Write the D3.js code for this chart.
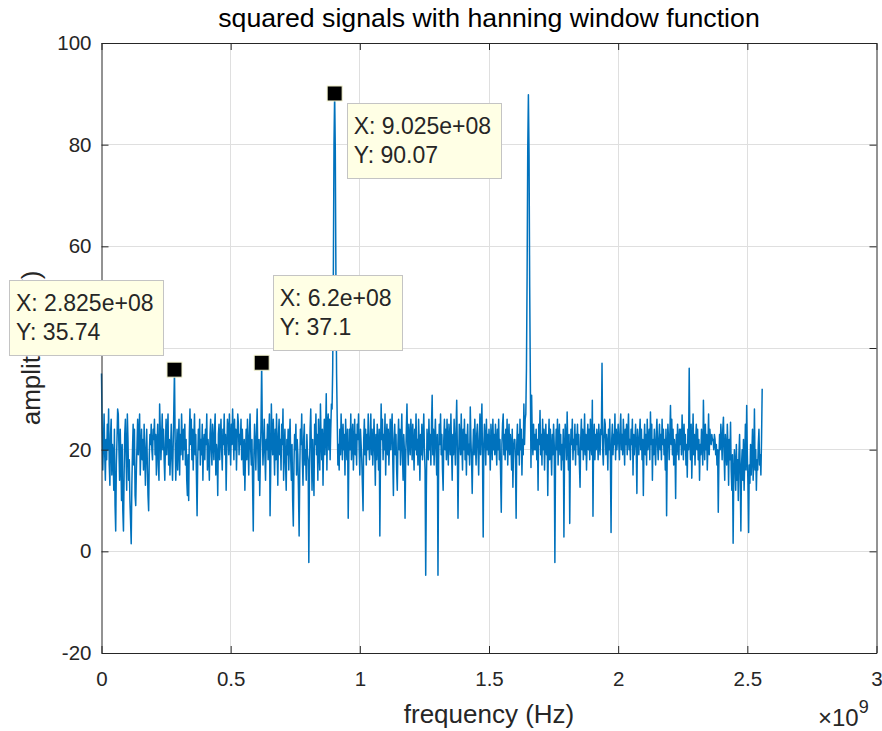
<!DOCTYPE html>
<html>
<head>
<meta charset="utf-8">
<script src="https://cdn.jsdelivr.net/npm/d3@7"></script>
<style>
    body { margin: 0; background: #fff; }
    svg text { font-family: "Liberation Sans", Arial, Helvetica, sans-serif; }
</style>
</head>
<body>
<div id="chart"></div>
<script>
// spectrum: one value per FFT bin, bins are 2.5 MHz apart, starting at 0 Hz
const binWidth = 2.5e6;
const amplitude = [
    35, 24, 16, 21, 27, 19, 14, 22, 18, 25, 20, 28, 17, 13, 23, 26, 15, 21, 19, 12, 24, 9, 4, 17, 22, 28, 27, 20, 14, 24, 18, 10,
    21, 8, 4, 15, 23, 26, 19, 12, 27, 22, 14, 18, 10, 6, 1.5, 13, 20, 25, 17, 24, 11, 9, 16, 21, 26, 19, 23, 27, 15, 20, 24, 18,
    22, 16, 25, 19, 13, 20, 24, 17, 11, 8, 19, 23, 21, 25, 20, 18, 24, 22, 26, 19, 23, 15, 21, 25, 17, 14, 29, 24, 18, 22, 27, 20,
    24, 18, 14, 21, 26, 19, 23, 27, 17, 22, 15, 20, 25, 18, 14, 21, 28, 35.74, 22, 14, 19, 24, 16, 21, 26, 15, 23, 19, 27, 22, 18, 24,
    20, 25, 17, 22, 14, 11, 19, 10, 23, 28, 21, 26, 18, 24, 16, 22, 27, 19, 23, 15, 7, 18, 24, 20, 26, 17, 22, 19, 25, 14, 21, 23,
    18, 24, 21, 27, 16, 22, 19, 14, 23, 26, 20, 17, 25, 22, 18, 24, 27, 15, 21, 19, 11, 23, 25, 18, 22, 26, 20, 16, 24, 21, 27, 19,
    23, 12, 20, 26, 24, 19, 27, 22, 17, 25, 21, 28, 23, 18, 26, 20, 24, 16, 22, 27, 25, 19, 23, 21, 26, 18, 24, 20, 15, 22, 12, 19,
    24, 18, 26, 21, 15, 23, 27, 20, 17, 22, 13, 4, 19, 25, 21, 16, 23, 28, 20, 14, 22, 11, 18, 25, 37.1, 24, 17, 21, 26, 19, 14, 22,
    20, 25, 18, 23, 27, 7, 16, 29, 22, 19, 26, 21, 15, 24, 18, 27, 20, 13, 23, 26, 19, 22, 16, 25, 21, 28, 14, 20, 24, 17, 12, 22,
    19, 24, 16, 22, 26, 18, 14, 21, 10, 5, 17, 23, 20, 25, 15, 22, 19, 12, 3, 16, 24, 21, 27, 18, 13, 22, 25, 17, 20, 14, 23, 19,
    18, -2.2, 15, 24, 28, 20, 12, 22, 17, 11, 25, 21, 27, 19, 23, 14, 26, 20, 16, 29, 22, 18, 24, 13, 21, 26, 19, 23, 31, 16, 25, 27,
    20, 26, 18, 24, 29, 28, 36, 55, 80, 90.07, 79, 53, 35, 26, 17, 21, 16, 24, 19, 27, 22, 18, 25, 20, 23, 15, 26, 21, 18, 24, 6.5, 19,
    24, 20, 27, 18, 22, 25, 16, 21, 26, 19, 23, 17, 25, 22, 27, 20, 15, 24, 21, 18, 13, 8, 22, 26, 19, 24, 17, 23, 20, 27, 21, 18,
    22, 27, 19, 24, 17, 21, 26, 20, 13, 23, 18, 25, 21, 16, 24, 3, 19, 29, 22, 26, 18, 23, 20, 27, 15, 22, 25, 19, 24, 17, 21, 26,
    20, 24, 27, 18, 11, 22, 25, 19, 23, 16, 12, 21, 26, 20, 24, 17, 22, 27, 19, 14, 23, 20, 6.5, 18, 24, 29, 21, 17, 25, 22, 19, 26,
    23, 18, 25, 21, 16, 24, 20, 27, 19, 22, 17, 26, 21, 14, 23, 19, 25, 18, 22, 27, 20, 16, -4.7, 12, 24, 21, 18, 26, 20, 23, 17, 25,
    30.7, 19, 24, 17, 22, 26, 20, 15, 23, -4.7, 18, 25, 21, 27, 19, 23, 16, 12, 22, 26, 20, 24, 18, 26, 21, 17, 25, 22, 19, 27, 20, 14,
    23, 19, 26, 21, 17, 24, 29.7, 20, 6.5, 18, 25, 22, 19, 27, 21, 16, 24, 20, 26, 18, 23, 15, 22, 25, 19, 21, 17, 28.4, 22, 18, 11.4, 20,
    24, 19, 26, 21, 17, 23, 25, 20, 15, 22, 27, 19, 24, 29, 18, 2.8, 21, 25, 22, 17, 26, 20, 23, 19, 24, 21, 16, 25, 22, 18, 26, 20,
    23, 19, 25, 21, 17, 24, 20, 26, 18, 22, 15, 7.7, 21, 25, 27, 19, 23, 18, 24, 20, 26, 17, 22, 25, 19, 23, 21, 16, 24, 12.6, 20, 22,
    22, 18, 6.5, 21, 25, 19, 23, 17, 26, 20, 24, 15, 22, 19, 29, 21, 26, 27, 36, 54, 79, 89.8, 78, 52, 34, 16.5, 30.7, 22, 19, 25, 20, 23,
    20, 24, 18, 22, 12, 25, 21, 27.7, 19, 23, 17, 26, 20, 24, 16, 22, 25, 19, 23, 11, 21, 26, 18, 24, 20, 15, 23, 19, 25, 21, -2.2, 18,
    24, 20, 26, 17, 22, 25, 19, 23, 16, 21, 18, 24, 2.8, 20, 25, 22, 18, 27.4, 21, 16, 23, 5.5, 19, 24, 21, 26, 18, 22, 20, 25, 17, 23,
    21, 25, 19, 23, 17, 12.6, 22, 26, 20, 24, 18, 21, 27, 19, 23, 16, 22, 25, 20, 24, 18, 26, 21, 19, 29.7, 6.9, 22, 25, 18, 23, 20, 24,
    22, 18, 25, 21, 19, 24, 23, 37, 20, 17, 22, 26, 25, 19, 23, 21, 16, 24, 20, 26, 18, 3.7, 22, 25, 19, 23, 21, 27, 18, 24, 20, 22,
    25, 21, 18, 24, 27, 20, 23, 19, 26, 22, 17, 24, 21, 25, 19, 23, 27, 20, 22, 18, 24, 21, 26, 15, 23, 19, 22, 25, 20, 11.4, 24, 21,
    19, 23, 26, 20, 24, 18, 22, 11, 21, 25, 19, 23, 17, 26, 20, 22, 24, 18, 27.4, 21, 25, 14, 22, 19, 24, 20, 17, 23, 26, 21, 18, 22,
    25, 20, 23, 18, 26, 21, 24, 19, 22, 16, 24, 7, 20, 25, 22, 18, 23, 28.7, 21, 26, 19, 24, 17, 22, 20, 10.4, 23, 19, 25, 21, 18, 24,
    21, 24, 19, 26.8, 22, 18, 25, 20, 23, 17, 21, 14.6, 24, 20, 36, 22, 18, 25, 14.4, 21, 27, 19, 23, 17, 22, 25, 20, 24, 18, 22, 14, 21,
    19, 24, 21, 17, 29.7, 22, 18, 25, 20, 23, 16, 21, 27, 19, 24, 22, 21, 23, 21.8, 22, 20, 23, 22, 19, 21, 17, 20, 7.7, 18, 23, 20, 25,
    22, 18, 24, 26.4, 19, 14, 23, 20, 17, 25, 21, 13, 22, 18, 25.4, 16, 12, 19, 1.6, 15, 20, 17, 12, 21, 14, 18, 10, 19, 23, 15, 4, 17,
    20, 14, 22, 12, 18, 25, 16, 28.7, 19, 13, 3.7, 17, 13.4, 21, 15, 19, 24, 14, 18, 28, 16, 20, 12, 18, 16, 21, 24, 17, 19, 15, 22, 32
];

const xTicks = [0, 0.5e9, 1e9, 1.5e9, 2e9, 2.5e9, 3e9];
const yTicks = [-20, 0, 20, 40, 60, 80, 100];

// data tips placed on the plot
const tipFreq = [2.825e8, 6.2e8, 9.025e8];
const tipAmp = [35.74, 37.1, 90.07];
const tipXText = ['2.825e+08', '6.2e+08', '9.025e+08'];
const tipYText = ['35.74', '37.1', '90.07'];

const W = 882, H = 731;
const axisColor = '#262626';
const lineColor = '#0072bd';

const svg = d3.select('#chart').append('svg').attr('width', W).attr('height', H);

const x = d3.scaleLinear().domain([0, 3e9]).range([101.5, 876.5]);
const y = d3.scaleLinear().domain([-20, 100]).range([653, 43]);
const crisp = (v) => Math.round(v - 0.5) + 0.5;

// grid
svg.append('g')
    .selectAll('line')
    .data(xTicks.slice(1, -1))
    .join('line')
    .attr('x1', (d) => crisp(x(d)))
    .attr('x2', (d) => crisp(x(d)))
    .attr('y1', 43)
    .attr('y2', 653)
    .attr('stroke', '#dfdfdf');
svg.append('g')
    .selectAll('line')
    .data(yTicks.slice(1, -1))
    .join('line')
    .attr('y1', (d) => crisp(y(d)))
    .attr('y2', (d) => crisp(y(d)))
    .attr('x1', 101.5)
    .attr('x2', 876.5)
    .attr('stroke', '#dfdfdf');

// signal
const line = d3
    .line()
    .x((d, i) => x(i * binWidth))
    .y((d) => y(d));

svg.append('path')
    .datum(amplitude)
    .attr('fill', 'none')
    .attr('stroke', lineColor)
    .attr('stroke-width', 1.5)
    .attr('stroke-linejoin', 'round')
    .attr('d', line);

// axes, ticks pointing inwards like matlab
const styleAxis = (g) => {
    g.attr('font-size', null).attr('font-family', null);
    g.selectAll('path, line').attr('stroke', axisColor);
    g.selectAll('text').attr('fill', axisColor).style('font-size', '20.5px');
};

svg.append('g')
    .attr('transform', 'translate(0,653)')
    .call(d3.axisBottom(x).tickValues(xTicks).tickSize(-7).tickSizeOuter(0).tickPadding(18).tickFormat((d) => String(d / 1e9)))
    .call(styleAxis);
svg.append('g')
    .attr('transform', 'translate(0,43)')
    .call(d3.axisTop(x).tickValues(xTicks).tickSize(-7).tickSizeOuter(0).tickFormat(''))
    .call(styleAxis);
svg.append('g')
    .attr('transform', 'translate(101.5,0)')
    .call(d3.axisLeft(y).tickValues(yTicks).tickSize(-7).tickSizeOuter(0).tickPadding(10).tickFormat((d) => String(d)))
    .call(styleAxis);
svg.append('g')
    .attr('transform', 'translate(876.5,0)')
    .call(d3.axisRight(y).tickValues(yTicks).tickSize(-7).tickSizeOuter(0).tickFormat(''))
    .call(styleAxis);

// title and labels
svg.append('text')
    .attr('x', 489)
    .attr('y', 27)
    .attr('text-anchor', 'middle')
    .attr('fill', '#000')
    .style('font-size', '26.7px')
    .text('squared signals with hanning window function');

svg.append('text')
    .attr('x', 489)
    .attr('y', 723)
    .attr('text-anchor', 'middle')
    .attr('fill', axisColor)
    .style('font-size', '26px')
    .text('frequency (Hz)');

// partly hidden behind the first data tip, as in the original figure
svg.append('text')
    .attr('transform', 'translate(40,348) rotate(-90)')
    .attr('text-anchor', 'middle')
    .attr('fill', axisColor)
    .style('font-size', '26px')
    .text('amplitude (V)');

const expo = svg.append('text').attr('x', 818).attr('y', 726).attr('fill', axisColor).style('font-size', '24px');
expo.append('tspan').text('\u00d710');
expo.append('tspan').attr('dy', -13).style('font-size', '18px').text('9');

// data tips: marker plus label box
const tipLayout = [
    { side: 'left', gap: 11, top: -90 },
    { side: 'right', gap: 11, top: -88 },
    { side: 'right', gap: 12, top: 10 },
];

tipFreq.forEach((f, i) => {
    const mx = x(f);
    const my = y(tipAmp[i]);
    const lay = tipLayout[i];

    svg.append('rect')
        .attr('x', mx - 7.5)
        .attr('y', my - 7.5)
        .attr('width', 15)
        .attr('height', 15)
        .attr('fill', '#000')
        .attr('stroke', '#f4f4d0')
        .attr('stroke-width', 1);

    const g = svg.append('g');
    const box = g.append('rect').attr('fill', '#ffffe5').attr('stroke', '#c4c4c4').attr('stroke-width', 1);
    const t1 = g.append('text').style('font-size', '23px').attr('fill', axisColor).text('X: ' + tipXText[i]);
    const t2 = g.append('text').style('font-size', '23px').attr('fill', axisColor).text('Y: ' + tipYText[i]);
    const w = Math.max(t1.node().getComputedTextLength(), t2.node().getComputedTextLength()) + 17;
    const bx = lay.side === 'left' ? mx - lay.gap - w : mx + lay.gap;
    const by = my + lay.top;
    box.attr('x', Math.round(bx) + 0.5).attr('y', Math.round(by) + 0.5).attr('width', Math.round(w)).attr('height', 75);
    t1.attr('x', bx + 7).attr('y', by + 31);
    t2.attr('x', bx + 7).attr('y', by + 60);
});
</script>
</body>
</html>
